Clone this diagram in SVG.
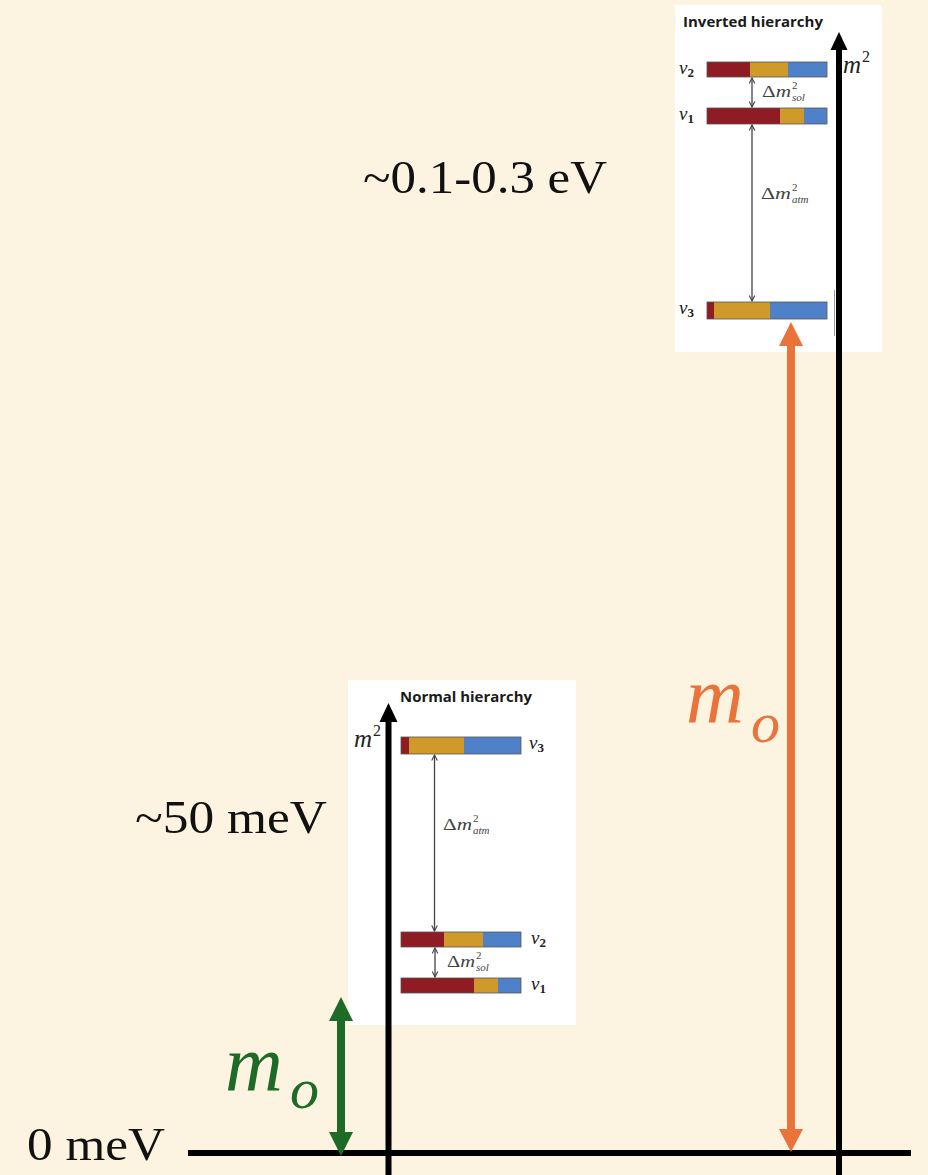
<svg xmlns="http://www.w3.org/2000/svg" width="928" height="1175" viewBox="0 0 928 1175">
<defs>
<marker id="thin" viewBox="0 0 10 10" refX="9" refY="5" markerWidth="7" markerHeight="7" markerUnits="userSpaceOnUse" orient="auto-start-reverse">
<path d="M1,1 L9,5 L1,9" fill="none" stroke="#444" stroke-width="1.6"/>
</marker>
<style>
.big{font-family:"Liberation Serif","Times New Roman",serif;font-size:46px;fill:#111}
.mo{font-family:"Liberation Serif","Times New Roman",serif;font-style:italic}
.title{font-family:"Open Sans","Liberation Sans",Arial,sans-serif;font-weight:bold;font-size:14px;fill:#1a1a1a}
.nu{font-family:"Liberation Serif","Times New Roman",serif;font-style:italic;font-size:19px;fill:#222}
.nusub{font-family:"Liberation Serif","Times New Roman",serif;font-style:normal;font-weight:bold;font-size:13px;fill:#222}
.dm{font-family:"Liberation Serif","Times New Roman",serif;font-size:17px;fill:#444}
.dmi{font-style:italic}
.sup{font-family:"Liberation Serif","Times New Roman",serif;font-size:11px;fill:#444}
.subi{font-family:"Liberation Serif","Times New Roman",serif;font-style:italic;font-size:11px;fill:#444}
.m2{font-family:"Liberation Serif","Times New Roman",serif;font-style:italic;font-size:25px;fill:#222}
.m2s{font-family:"Liberation Serif","Times New Roman",serif;font-size:16px;fill:#222}
.red{fill:#8E1C22}
.gold{fill:#CF9A29}
.blue{fill:#4E81C8}
.bar{fill:none;stroke:#555;stroke-width:0.8}
.gap{stroke:#444;stroke-width:1.3;fill:none;marker-start:url(#thin);marker-end:url(#thin)}
.axis{stroke:#000;stroke-width:6;fill:none}
</style>
</defs>
<rect id="background" x="0" y="0" width="928" height="1175" fill="#FCF4E1"/>

<g id="inverted-hierarchy">
<rect x="675" y="5" width="207" height="347" fill="#FFFFFF"/>
<text class="title" x="683" y="27" textLength="140" lengthAdjust="spacingAndGlyphs">Inverted hierarchy</text>
<g id="inv-nu2">
<rect class="red" x="707" y="62" width="43" height="15"/><rect class="gold" x="750" y="62" width="38" height="15"/><rect class="blue" x="788" y="62" width="39" height="15"/><rect class="bar" x="707" y="62" width="120" height="15"/>
<text class="nu" x="679" y="74">ν<tspan class="nusub" dy="3">2</tspan></text>
</g>
<g id="inv-nu1">
<rect class="red" x="707" y="108" width="73" height="16"/><rect class="gold" x="780" y="108" width="24" height="16"/><rect class="blue" x="804" y="108" width="23" height="16"/><rect class="bar" x="707" y="108" width="120" height="16"/>
<text class="nu" x="679" y="120">ν<tspan class="nusub" dy="3">1</tspan></text>
</g>
<g id="inv-nu3">
<rect class="red" x="707" y="302" width="7" height="17"/><rect class="gold" x="714" y="302" width="56" height="17"/><rect class="blue" x="770" y="302" width="57" height="17"/><rect class="bar" x="707" y="302" width="120" height="17"/>
<text class="nu" x="679" y="314">ν<tspan class="nusub" dy="3">3</tspan></text>
</g>
<text class="dm" x="762" y="97" textLength="29" lengthAdjust="spacingAndGlyphs">Δ<tspan class="dmi">m</tspan></text><text class="sup" x="792" y="89">2</text><text class="subi" x="792" y="101">sol</text>
<text class="dm" x="761" y="199" textLength="30" lengthAdjust="spacingAndGlyphs">Δ<tspan class="dmi">m</tspan></text><text class="sup" x="792" y="191">2</text><text class="subi" x="792" y="203">atm</text>
<line x1="834.5" y1="290" x2="834.5" y2="336" stroke="#999" stroke-width="1"/>
<text class="m2" x="843" y="73">m</text><text class="m2s" x="862" y="62">2</text>
</g>

<g id="normal-hierarchy">
<rect x="348" y="680" width="228" height="345" fill="#FFFFFF"/>
<text class="title" x="400" y="702" textLength="132" lengthAdjust="spacingAndGlyphs">Normal hierarchy</text>
<g id="norm-nu3">
<rect class="red" x="401" y="737" width="8" height="17"/><rect class="gold" x="409" y="737" width="55" height="17"/><rect class="blue" x="464" y="737" width="57" height="17"/><rect class="bar" x="401" y="737" width="120" height="17"/>
<text class="nu" x="529" y="749">ν<tspan class="nusub" dy="3">3</tspan></text>
</g>
<g id="norm-nu2">
<rect class="red" x="401" y="932" width="43" height="15"/><rect class="gold" x="444" y="932" width="39" height="15"/><rect class="blue" x="483" y="932" width="38" height="15"/><rect class="bar" x="401" y="932" width="120" height="15"/>
<text class="nu" x="531" y="944">ν<tspan class="nusub" dy="3">2</tspan></text>
</g>
<g id="norm-nu1">
<rect class="red" x="401" y="978" width="73" height="15"/><rect class="gold" x="474" y="978" width="24" height="15"/><rect class="blue" x="498" y="978" width="23" height="15"/><rect class="bar" x="401" y="978" width="120" height="15"/>
<text class="nu" x="531" y="990">ν<tspan class="nusub" dy="3">1</tspan></text>
</g>
<text class="dm" x="443" y="830" textLength="29" lengthAdjust="spacingAndGlyphs">Δ<tspan class="dmi">m</tspan></text><text class="sup" x="473" y="822">2</text><text class="subi" x="473" y="834">atm</text>
<text class="dm" x="447" y="967" textLength="28" lengthAdjust="spacingAndGlyphs">Δ<tspan class="dmi">m</tspan></text><text class="sup" x="476" y="959">2</text><text class="subi" x="476" y="971">sol</text>
<text class="m2" x="354" y="747">m</text><text class="m2s" x="373" y="736">2</text>
</g>

<g id="labels">
<text class="big" x="363" y="193" textLength="244" lengthAdjust="spacingAndGlyphs">~0.1-0.3 eV</text>
<text class="big" x="135" y="833" textLength="192" lengthAdjust="spacingAndGlyphs">~50 meV</text>
<text class="big" x="27" y="1160" textLength="138" lengthAdjust="spacingAndGlyphs">0 meV</text>
<text class="mo" x="686" y="722" font-size="80" fill="#E9733A">m</text>
<text class="mo" x="751" y="742" font-size="58" fill="#E9733A">o</text>
<text class="mo" x="225" y="1090" font-size="80" fill="#1D6B26">m</text>
<text class="mo" x="290" y="1108" font-size="58" fill="#1D6B26">o</text>
</g>

<g id="connectors">
<line class="gap" x1="752" y1="78" x2="752" y2="107"/>
<line class="gap" x1="752" y1="125" x2="752" y2="301"/>
<line class="gap" x1="434.5" y1="755" x2="434.5" y2="931"/>
<line class="gap" x1="435" y1="948" x2="435" y2="977"/>
<line class="axis" x1="188" y1="1153" x2="911" y2="1153"/>
<line class="axis" x1="388.5" y1="720" x2="388.5" y2="1175"/>
<polygon points="388.5,703 379.5,722 397.5,722" fill="#000"/>
<line class="axis" x1="839" y1="48" x2="839" y2="1175"/>
<polygon points="839,32 830.5,50 847.5,50" fill="#000"/>
<line x1="791" y1="344" x2="791" y2="1131" stroke="#E9733A" stroke-width="8"/>
<polygon points="791,322 779,346 803,346" fill="#E9733A"/>
<polygon points="791,1152 779,1129 803,1129" fill="#E9733A"/>
<line x1="341" y1="1019" x2="341" y2="1134" stroke="#1D6B26" stroke-width="8"/>
<polygon points="341,997 329,1021 353,1021" fill="#1D6B26"/>
<polygon points="341,1156 329,1132 353,1132" fill="#1D6B26"/>
</g>
</svg>
